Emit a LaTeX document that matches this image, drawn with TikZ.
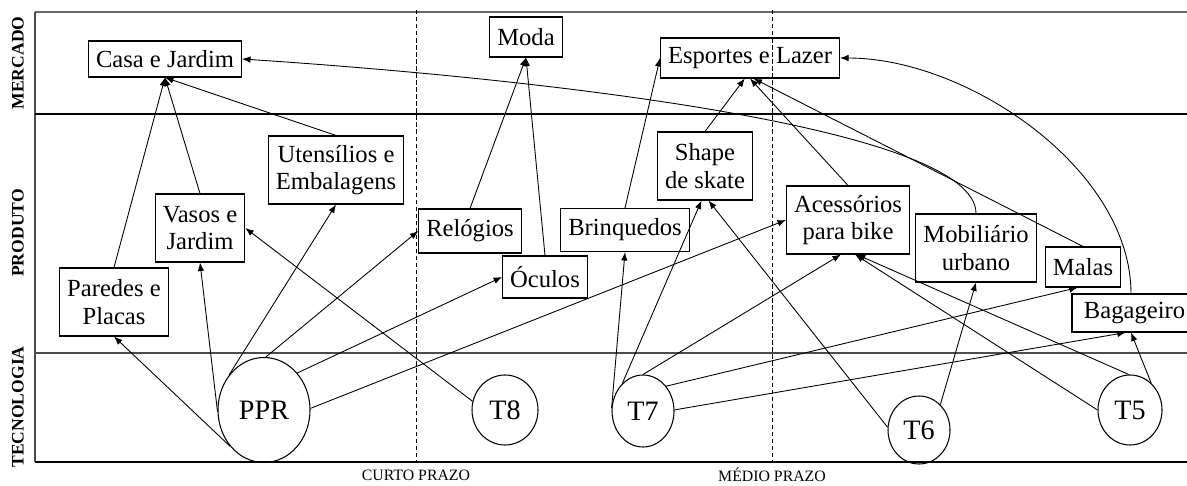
\documentclass[tikz,border=0pt]{standalone}
\usepackage{fontspec}
\setmainfont{Liberation Serif}
\usepackage{tikz}
\usetikzlibrary{arrows.meta,positioning,shapes.geometric}
\tikzset{
  itembox/.style={draw, line width=0.6pt, align=center, inner xsep=0.15cm, minimum height=0.8cm, font=\fontsize{14}{15.5}\selectfont},
  twoline/.style={minimum height=1.36cm},
  techcirc/.style={draw, ellipse, line width=0.6pt, inner sep=0pt, font=\fontsize{16}{18}\selectfont},
  cline/.style={-{Latex[length=1.7mm,width=1.3mm]}, line width=0.5pt},
  rowlabel/.style={rotate=90, font=\bfseries\fontsize{10}{11}\selectfont},
  termlabel/.style={font=\fontsize{9}{10}\selectfont},
  frameline/.style={line width=0.6pt},
  termline/.style={line width=0.5pt, dash pattern=on 2.5pt off 1.5pt},
}

\begin{document}
\begin{tikzpicture}
  \useasboundingbox (0,0) rectangle (23.74,9.7);
  % bands
  \draw[frameline, black!60, line width=1.1pt] (0.7,9.46) -- (23.74,9.46);
  \draw[frameline, black!70] (0.7,9.46) -- (0.7,0.46);
  \draw[frameline] (0.7,7.42) -- (23.74,7.42);
  \draw[frameline, black!70] (0.7,2.64) -- (23.74,2.64);
  \draw[frameline] (0.7,0.46) -- (23.74,0.46);
  \draw[termline] (8.32,9.5) -- (8.32,0.46);
  \draw[termline] (15.44,9.5) -- (15.44,0.46);
  \node[rowlabel] (lmerc) at (0.36,8.44) {MERCADO};
  \node[rowlabel] (lprod) at (0.36,5.04) {PRODUTO};
  \node[rowlabel] (ltec) at (0.36,1.56) {TECNOLOGIA};
  \node[termlabel] (curto) at (8.32,0.2) {CURTO PRAZO};
  \node[termlabel] (medio) at (15.44,0.2) {MÉDIO PRAZO};

  % mercado
  \node[itembox, minimum height=0.72cm] (casa) at (3.30,8.52) {Casa e Jardim};
  \node[itembox] (moda) at (10.52,8.96) {Moda};
  \node[itembox] (esportes) at (15.00,8.54) {Esportes e Lazer};

  % produto
  \node[itembox, twoline] (utensilios) at (6.72,6.30) {Utensílios e\\Embalagens};
  \node[itembox, twoline] (vasos) at (4.00,5.14) {Vasos e\\Jardim};
  \node[itembox, twoline] (paredes) at (2.28,3.66) {Paredes e\\Placas};
  \node[itembox, minimum height=0.88cm] (relogios) at (9.40,5.08) {Relógios};
  \node[itembox, minimum height=0.84cm] (oculos) at (10.90,4.16) {Óculos};
  \node[itembox, minimum height=0.86cm] (brinquedos) at (12.50,5.10) {Brinquedos};
  \node[itembox, twoline] (shape) at (14.10,6.38) {Shape\\de skate};
  \node[itembox, twoline] (acessorios) at (16.96,5.30) {Acessórios\\para bike};
  \node[itembox, twoline] (mobiliario) at (19.52,4.74) {Mobiliário\\urbano};
  \node[itembox] (malas) at (21.66,4.36) {Malas};
  \node[itembox, minimum height=0.76cm, minimum width=2.5cm] (bagageiro) at (22.69,3.44) {Bagageiro};

  % tecnologia
  \node[techcirc, minimum width=1.84cm, minimum height=2.1cm] (ppr) at (5.28,1.50) {PPR};
  \node[techcirc, minimum width=1.32cm, minimum height=1.4cm] (t8) at (10.10,1.50) {T8};
  \node[techcirc, minimum width=1.24cm, minimum height=1.44cm] (t7) at (12.86,1.48) {T7};
  \node[techcirc, minimum width=1.24cm, minimum height=1.36cm] (t6) at (18.38,1.10) {T6};
  \node[techcirc, minimum width=1.28cm, minimum height=1.4cm] (t5) at (22.60,1.50) {T5};

  % tecnologia -> produto
  \draw[cline] (ppr.227) -- (paredes.south);
  \draw[cline] (ppr.182) -- (vasos.south);
  \draw[cline] (ppr.135) -- (utensilios.south);
  \draw[cline] (ppr.88) -- (relogios.west);
  \draw[cline] (ppr.48) -- (oculos.west);
  \draw[cline] (ppr.2) -- (acessorios.west);
  \draw[cline] (t8.165) -- (vasos.east);
  \draw[cline] (t7.175) -- (brinquedos.south);
  \draw[cline] (t7.127) -- ([xshift=-2pt]shape.south);
  \draw[cline] (t7.90) -- ([xshift=-4pt]acessorios.south);
  \draw[cline] (t7.47) -- ([xshift=-3pt]malas.south);
  \draw[cline] (t7.2) -- ([xshift=-5pt]bagageiro.south);
  \draw[cline] (t6.175) -- ([xshift=2pt]shape.south);
  \draw[cline] (t6.50) -- (mobiliario.south);
  \draw[cline] (t5.180) -- ([xshift=4pt]acessorios.south);
  \draw[cline] (t5.92) -- ([xshift=5pt]acessorios.south);
  \draw[cline] (t5.52) -- ([xshift=-2pt]bagageiro.south);

  % produto -> mercado
  \draw[cline] (paredes.north) -- (casa.south);
  \draw[cline] (vasos.north) -- (casa.south);
  \draw[cline] (utensilios.north) -- (casa.south);
  \draw[cline] (relogios.north) -- (moda.south);
  \draw[cline] (oculos.north) -- (moda.south);
  \draw[cline] (brinquedos.north) -- (esportes.west);
  \draw[cline] (shape.north) -- ([xshift=-3pt]esportes.south);
  \draw[cline] (acessorios.north) -- (esportes.south);
  \draw[cline] (malas.north) -- ([xshift=2pt]esportes.south);
  \draw[cline] (mobiliario.north) .. controls +(0,1.72) and +(6.04,-0.4) .. (casa.east);
  \draw[cline] ([xshift=-2pt]bagageiro.north) .. controls +(0,2.48) and +(2.56,0) .. (esportes.east);
\end{tikzpicture}
\end{document}
